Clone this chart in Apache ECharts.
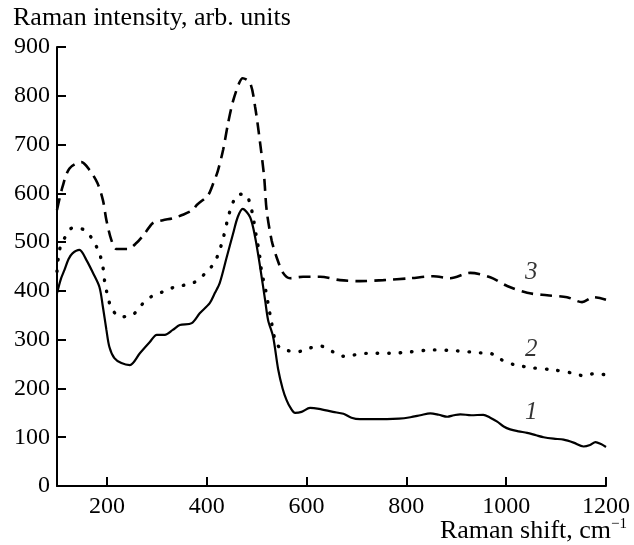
<!DOCTYPE html>
<html>
<head>
<meta charset="utf-8">
<script src="https://cdn.jsdelivr.net/npm/echarts@6/dist/echarts.min.js"></script>
<style>
  html, body { margin: 0; padding: 0; background: #fff; }
  #contain { width: 634px; height: 545px; }
</style>
</head>
<body>
<div id="contain"></div>
<script>
// curve 1 (solid)
var x1 = [100,108,115,123,131,145,159,172,185,192,199,205,215,229,246,266,286,300,316,332,346,370,386,406,416,426,440,453,462,472,487,497,507,517,523,533,543,552,560,568,577,590,607,625,653,674,690,707,735,761,785,808,828,848,865,882,895,908,930,954,968,982,995,1008,1025,1042,1060,1075,1095,1115,1135,1155,1168,1179,1190,1200];
var y1 = [395,425,443,465,477,484,463,437,408,367,320,285,262,252,248,272,295,310,310,320,330,334,354,375,395,416,469,518,551,568,551,510,449,381,340,306,240,200,176,160,150,152,160,158,152,148,140,137,137,137,138,141,145,149,146,142,145,147,145,146,140,132,122,116,112,109,104,100,97,95,89,81,84,90,86,80];
// curve 2 (dotted)
var x2 = [100,105,115,131,155,172,185,192,196,202,209,226,249,269,290,312,336,356,376,400,416,426,433,443,450,460,470,480,488,493,500,505,510,515,520,524,528,537,545,557,581,607,627,653,674,721,767,808,854,902,948,968,988,1015,1055,1095,1135,1155,1175,1200];
var y2 = [440,484,508,529,525,504,477,449,416,388,365,347,349,371,389,398,408,412,418,439,459,484,508,551,574,596,598,596,574,551,508,480,439,416,392,367,346,299,285,279,275,283,287,275,266,272,272,275,279,277,273,272,260,249,242,238,231,226,230,228];
// curve 3 (dashed)
var x3 = [100,111,125,149,165,181,192,199,209,219,241,259,276,292,312,332,352,372,380,400,406,413,422,433,443,453,465,472,487,497,507,515,520,530,540,553,567,593,627,667,707,754,808,854,888,928,968,1002,1042,1082,1122,1152,1175,1200];
var y3 = [566,613,651,664,648,621,586,545,504,486,486,498,518,539,545,549,556,566,576,593,602,620,645,690,745,790,826,836,826,777,703,634,566,504,469,437,426,429,429,422,420,422,426,430,426,437,428,410,396,391,387,377,387,382];

var xTicks = [200, 400, 600, 800, 1000, 1200];
var labelText = ['1', '2', '3'];
var labelX = [1050, 1050, 1050];
var labelY = [150, 279, 437];

var font = '"Liberation Serif", "Times New Roman", serif';

function pairs(xs, ys) {
    var out = [];
    for (var i = 0; i < xs.length; i++) out.push([xs[i], ys[i]]);
    return out;
}
var labelData = [];
for (var i = 0; i < labelText.length; i++) labelData.push([labelX[i], labelY[i], labelText[i]]);

var myChart = echarts.init(document.getElementById('contain'));
var option = {
    animation: false,
    backgroundColor: '#fff',
    title: [
        {
            text: 'Raman intensity, arb. units',
            left: 8, top: 0,
            textStyle: { fontFamily: font, fontSize: 26, fontWeight: 'normal', color: '#000' }
        },
        {
            text: '{a|Raman shift, cm}{b|−1}',
            right: 2, top: 512,
            textStyle: {
                fontWeight: 'normal',
                rich: {
                    a: { fontFamily: font, fontSize: 26, fontWeight: 'normal', color: '#000' },
                    b: { fontFamily: font, fontSize: 15, fontWeight: 'normal', color: '#000', padding: [0, 0, 14, 0] }
                }
            }
        }
    ],
    grid: { left: 57, right: 28, top: 47, bottom: 59 },
    xAxis: {
        type: 'value', min: 100, max: 1200,
        axisLine: { lineStyle: { color: '#000', width: 2 } },
        axisTick: { inside: true, length: 9, customValues: xTicks, lineStyle: { color: '#000', width: 2 } },
        axisLabel: {
            customValues: xTicks, margin: 9, fontFamily: font, fontSize: 24, color: '#000',
            formatter: function (v) { return String(v); }
        },
        splitLine: { show: false }
    },
    yAxis: {
        type: 'value', min: 0, max: 900, interval: 100,
        axisLine: { show: true, lineStyle: { color: '#000', width: 2 } },
        axisTick: { show: true, inside: true, length: 9, lineStyle: { color: '#000', width: 2 } },
        axisLabel: { margin: 7, fontFamily: font, fontSize: 24, color: '#000' },
        splitLine: { show: false }
    },
    series: [
        {
            name: '1', type: 'line', data: pairs(x1, y1), smooth: 0.3, showSymbol: false,
            lineStyle: { color: '#000', width: 2.2 }
        },
        {
            name: '2', type: 'line', data: pairs(x2, y2), smooth: 0.3, showSymbol: false,
            lineStyle: { color: '#000', width: 3.4, type: [0.5, 11], cap: 'round' }
        },
        {
            name: '3', type: 'line', data: pairs(x3, y3), smooth: 0.3, showSymbol: false,
            lineStyle: { color: '#000', width: 2.6, type: [12, 7] }
        },
        {
            name: 'labels', type: 'scatter', data: labelData, symbolSize: 0,
            label: {
                show: true, position: 'inside',
                formatter: function (p) { return p.value[2]; },
                fontFamily: font, fontSize: 25, fontStyle: 'italic', color: '#000'
            }
        }
    ]
};
myChart.setOption(option);
</script>
</body>
</html>
